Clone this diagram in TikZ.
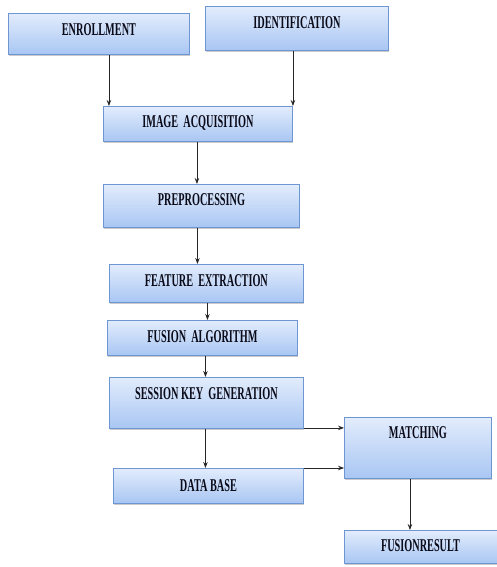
\documentclass[tikz,border=0pt]{standalone}
\usepackage{fontspec}
\setmainfont{Liberation Serif}
\usetikzlibrary{shadows,arrows.meta,calc}
\definecolor{boxtop}{HTML}{E2ECFC}
\definecolor{boxbot}{HTML}{A8C6F3}
\definecolor{boxline}{HTML}{6E96D2}
\definecolor{txtcol}{HTML}{0A0A18}
\newcommand{\lbl}[1]{\scalebox{0.57}[1]{#1}}
\tikzset{
  flowbox/.style={draw=boxline, line width=0.9pt, top color=boxtop, bottom color=boxbot,
    inner sep=0pt, anchor=north west,
    drop shadow={shadow xshift=1pt, shadow yshift=-2pt, fill=black!35, opacity=0.6}},
  boxtext/.style={font=\bfseries\fontsize{18}{18}\selectfont, text=txtcol, inner sep=0pt},
  conn/.style={-{Stealth[length=6pt,width=4.5pt]}, line width=0.75pt, black!85}
}
\begin{document}
\begin{tikzpicture}[x=1pt,y=-1pt]
\useasboundingbox (0,0) rectangle (497,567);
% boxes (north west corner, width, height)
\node[flowbox, minimum width=181pt, minimum height=41pt] (enr) at (8,13) {};
\node[flowbox, minimum width=183pt, minimum height=44pt] (ide) at (205,6) {};
\node[flowbox, minimum width=189pt, minimum height=35pt] (img) at (103,106) {};
\node[flowbox, minimum width=196pt, minimum height=43pt] (pre) at (103,184) {};
\node[flowbox, minimum width=194pt, minimum height=38pt] (fea) at (109,264) {};
\node[flowbox, minimum width=190pt, minimum height=35pt] (fus) at (107,320) {};
\node[flowbox, minimum width=194pt, minimum height=51pt] (ses) at (109,377) {};
\node[flowbox, minimum width=147pt, minimum height=61pt] (mat) at (344,417) {};
\node[flowbox, minimum width=190pt, minimum height=35pt] (dat) at (113,468) {};
\node[flowbox, minimum width=158pt, minimum height=33pt] (res) at (344,530) {};
% texts
\node[boxtext] (tenr) at ([yshift=-17pt]enr.north) {\lbl{ENROLLMENT}};
\node[boxtext] (tide) at ([yshift=-17pt]ide.north) {\lbl{IDENTIFICATION}};
\node[boxtext] (timg) at ([yshift=-17pt]img.north) {\lbl{IMAGE\ \ ACQUISITION}};
\node[boxtext] (tpre) at ([yshift=-16pt]pre.north) {\lbl{PREPROCESSING}};
\node[boxtext] (tfea) at ([yshift=-17pt]fea.north) {\lbl{FEATURE\ \ EXTRACTION}};
\node[boxtext] (tfus) at ([yshift=-17pt]fus.north) {\lbl{FUSION\ \ ALGORITHM}};
\node[boxtext] (tses) at ([yshift=-17pt]ses.north) {\lbl{SESSION KEY\ \ GENERATION}};
\node[boxtext] (tmat) at ([yshift=-16pt]mat.north) {\lbl{MATCHING}};
\node[boxtext] (tdat) at ([yshift=-18pt]dat.north) {\lbl{DATA BASE}};
\node[boxtext] (tres) at ([xshift=-3pt,yshift=-16pt]res.north) {\lbl{FUSIONRESULT}};
% connectors
\draw[conn] ([xshift=10pt]enr.south) -- ([xshift=10pt]enr.south |- img.north);
\draw[conn] ([xshift=-4pt]ide.south) -- ([xshift=-4pt]ide.south |- img.north);
\draw[conn] ([xshift=-1pt]img.south) -- ([xshift=-1pt]img.south |- pre.north);
\draw[conn] ([xshift=-4pt]pre.south) -- ([xshift=-4pt]pre.south |- fea.north);
\draw[conn] ([xshift=1pt]fea.south) -- ([xshift=1pt]fea.south |- fus.north);
\draw[conn] ([xshift=3pt]fus.south) -- ([xshift=3pt]fus.south |- ses.north);
\draw[conn] ([xshift=-1pt]ses.south) -- ([xshift=-1pt]ses.south |- dat.north);
\draw[conn] ([yshift=1pt]ses.south east) -- ([yshift=1pt]ses.south east -| mat.west);
\draw[conn] (dat.north east) -- (dat.north east -| mat.west);
\draw[conn] ([xshift=-8pt]mat.south) -- ([xshift=-8pt]mat.south |- res.north);
\end{tikzpicture}
\end{document}
